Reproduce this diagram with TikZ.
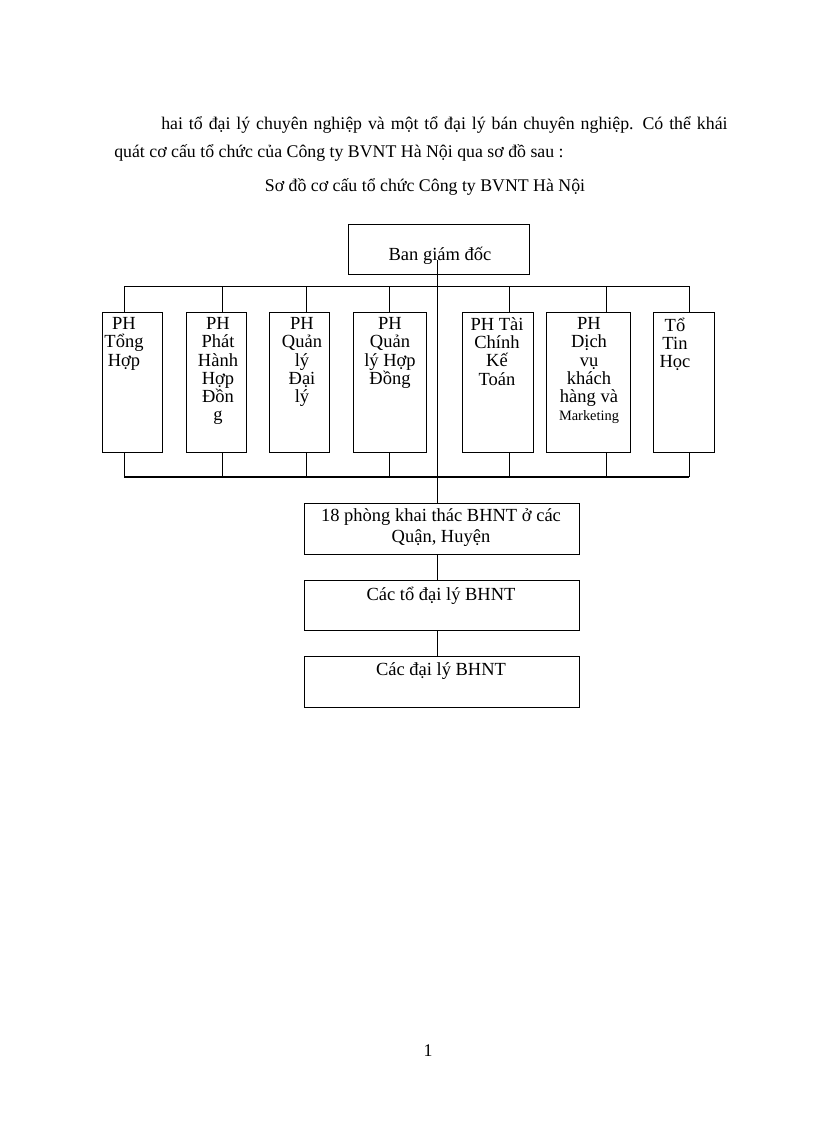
\documentclass[tikz,border=0pt]{standalone}
\usepackage{fontspec}
\setmainfont{Liberation Serif}
\begin{document}
\begin{tikzpicture}[x=0.73pt,y=-0.73pt,
  box/.style={draw,line width=0.5pt,anchor=north west,inner sep=0pt},
  lbl/.style={anchor=north,align=center,font=\fontsize{13.5}{13.3}\selectfont,inner sep=1pt},
  ln/.style={line width=0.5pt}]
\useasboundingbox (0,0) rectangle (816,1123);
\node[anchor=base west,inner sep=0pt,text width=580*0.73pt,font=\fontsize{13}{16}\selectfont] (p1) at (161,130) {{\parfillskip=0pt hai tổ đại lý chuyên nghiệp và một tổ đại lý bán chuyên nghiệp. Có thể khái\par}};
\node[anchor=base west,inner sep=0pt,font=\fontsize{13}{16}\selectfont] (p2) at (114,158) {quát cơ cấu tổ chức của Công ty BVNT Hà Nội qua sơ đồ sau :};
\node[anchor=base,inner sep=0pt,font=\fontsize{13}{16}\selectfont] (cap) at (425,192) {Sơ đồ cơ cấu tổ chức Công ty BVNT Hà Nội};
\node[anchor=base,inner sep=0pt,font=\fontsize{13}{16}\selectfont] (pg) at (428,1056) {1};
% top
\node[box,minimum width=181*0.73pt,minimum height=50*0.73pt] (top) at (348,224) {};
\draw[line width=1pt] (top.north east) -- (top.south east) -- (top.south west);
\node[font=\fontsize{13.5}{14}\selectfont,inner sep=0pt] (topt) at (440,256) {Ban giám đốc};
% boxes
\foreach \n/\x/\w/\c/\t in {
 1/102/60/124/{PH\\Tổng\\Hợp},
 2/186/60/218/{PH\\Phát\\Hành\\Hợp\\Đồn\\g},
 3/269/60/302/{PH\\Quản\\lý\\Đại\\lý},
 4/353/73/390/{PH\\Quản\\lý Hợp\\Đồng},
 5/462/71/497/{PH Tài\\Chính\\Kế\\Toán},
 6/546/84/589/{PH\\Dịch\\vụ\\khách\\hàng và\\{\fontsize{10.5}{11}\selectfont Marketing}},
 7/653/61/675/{Tổ\\Tin\\Học}}{
  \node[box,minimum width=\w*0.73pt,minimum height=140*0.73pt] (b\n) at (\x,312) {};
  \draw[line width=1pt] (b\n.north east) -- (b\n.south east) -- (b\n.south west);
  \node[lbl] (t\n) at (\c,316) {\t};
}
\coordinate (tl) at (124,286); \coordinate (tr) at (689,286);
\coordinate (bl) at (124,477); \coordinate (br) at (689,477);
\draw[ln] (tl) -- (tr);
\draw[line width=1pt] (bl) -- (br);
\foreach \n/\c in {1/124,2/222,3/306,4/389,5/509,6/606,7/689}{
  \draw[ln] (\c,286) -- (\c,312);
  \draw[ln] (\c,452) -- (\c,477);
}
% bottom chain
\node[box,minimum width=275*0.73pt,minimum height=51*0.73pt] (c1) at (304,503) {};
\node[box,minimum width=275*0.73pt,minimum height=50*0.73pt] (c2) at (304,580) {};
\node[box,minimum width=275*0.73pt,minimum height=51*0.73pt] (c3) at (304,656) {};
\foreach \c in {c1,c2,c3}{\draw[line width=1pt] (\c.north east) -- (\c.south east) -- (\c.south west);}
\node[lbl,font=\fontsize{13.5}{15}\selectfont] (c1t) at (441,507) {18 phòng khai thác BHNT ở các\\Quận, Huyện};
\node[lbl] (c2t) at (441,585) {Các tổ đại lý BHNT};
\node[lbl] (c3t) at (441,661) {Các đại lý BHNT};
\draw[ln] (437,260) -- (c1.north -| 437,0);
\draw[ln] (c1.south -| 437,0) -- (c2.north -| 437,0);
\draw[ln] (c2.south -| 437,0) -- (c3.north -| 437,0);
\end{tikzpicture}
\end{document}
